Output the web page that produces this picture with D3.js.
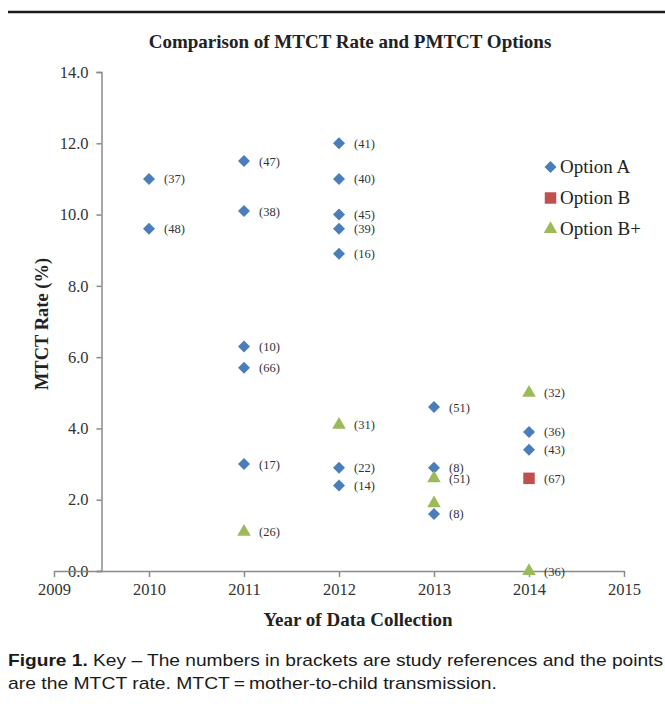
<!DOCTYPE html>
<html>
<head>
<meta charset="utf-8">
<script src="https://cdn.jsdelivr.net/npm/d3@7"></script>
<style>
  html, body { margin: 0; padding: 0; background: #fff; }
  svg { display: block; }
</style>
</head>
<body>
<svg id="chart" width="665" height="704"></svg>
<script>
// ---- Data ----
const xTicks = [2009, 2010, 2011, 2012, 2013, 2014, 2015];
const yTicks = [0, 2, 4, 6, 8, 10, 12, 14];

const optionAYear = [2010, 2010, 2011, 2011, 2011, 2011, 2011, 2012, 2012, 2012, 2012, 2012, 2012, 2012, 2013, 2013, 2013, 2014, 2014];
const optionARate = [11.0, 9.6, 11.5, 10.1, 6.3, 5.7, 3.0, 12.0, 11.0, 10.0, 9.6, 8.9, 2.9, 2.4, 4.6, 2.9, 1.6, 3.9, 3.4];
const optionARef  = ["(37)", "(48)", "(47)", "(38)", "(10)", "(66)", "(17)", "(41)", "(40)", "(45)", "(39)", "(16)", "(22)", "(14)", "(51)", "(8)", "(8)", "(36)", "(43)"];

const optionBYear = [2014];
const optionBRate = [2.6];
const optionBRef  = ["(67)"];

const optionBPlusYear = [2011, 2012, 2013, 2013, 2014, 2014];
const optionBPlusRate = [1.1, 4.1, 2.6, 1.9, 5.0, 0.0];
const optionBPlusRef  = ["(26)", "(31)", "(51)", "", "(32)", "(36)"];

const seriesNames = ["Option A", "Option B", "Option B+"];
const seriesColors = ["#4A7EBB", "#C0504D", "#9BBB59"];

// ---- Chart ----
const svg = d3.select("#chart");
const serif = "'Liberation Serif', 'Times New Roman', serif";
const sans = "'Liberation Sans', Arial, sans-serif";

const x = d3.scaleLinear().domain([2009, 2015]).range([54, 624]);
const y = d3.scaleLinear().domain([0, 14]).range([571, 72]);

// top rule
svg.append("line").attr("x1", 8).attr("x2", 665).attr("y1", 12).attr("y2", 12)
  .attr("stroke", "#1a1a1a").attr("stroke-width", 2.5);

// title
svg.append("text").attr("x", 350).attr("y", 48).attr("text-anchor", "middle")
  .attr("font-family", serif).attr("font-weight", "bold").attr("font-size", 19)
  .attr("fill", "#222").text("Comparison of MTCT Rate and PMTCT Options");

const axisColor = "#8a8a8a";

// y axis at x = 2009.5
const yAxis = d3.axisLeft(y).tickValues(yTicks).tickFormat(d3.format(".1f")).tickSize(5).tickPadding(8);
const gy = svg.append("g").attr("transform", `translate(${x(2009.5)},0)`).call(yAxis)
  .attr("font-family", serif).attr("font-size", 16.5);
gy.select(".domain").attr("stroke", axisColor).attr("stroke-width", 1.5);
gy.selectAll(".tick line").attr("stroke", axisColor).attr("stroke-width", 1.5);
gy.selectAll(".tick text").attr("fill", "#333");

// x axis at y=0
const xAxis = d3.axisBottom(x).tickValues(xTicks).tickFormat(d3.format("d")).tickSize(6).tickSizeOuter(0).tickPadding(6);
const gx = svg.append("g").attr("transform", `translate(0,${y(0)})`).call(xAxis)
  .attr("font-family", serif).attr("font-size", 16.5);
gx.select(".domain").attr("stroke", axisColor).attr("stroke-width", 1.5);
gx.selectAll(".tick line").attr("stroke", axisColor).attr("stroke-width", 1.5);
gx.selectAll(".tick text").attr("fill", "#333");

// axis titles
svg.append("text").attr("transform", `translate(48,324) rotate(-90)`).attr("text-anchor", "middle")
  .attr("font-family", serif).attr("font-weight", "bold").attr("font-size", 18.5)
  .attr("fill", "#222").text("MTCT Rate (%)");
svg.append("text").attr("x", 358).attr("y", 626).attr("text-anchor", "middle")
  .attr("font-family", serif).attr("font-weight", "bold").attr("font-size", 19)
  .attr("fill", "#222").text("Year of Data Collection");

// marker shapes
const diamond = d3.symbol().type(d3.symbolSquare).size(72)();
const square = d3.symbol().type(d3.symbolSquare).size(132)();
const triangle = d3.symbol().type(d3.symbolTriangle).size(80)();

function drawSeries(years, rates, refs, path, color, rot) {
  const data = years.map((yr, i) => ({ yr, v: rates[i], ref: refs[i] }));
  const g = svg.append("g");
  g.selectAll("path").data(data).enter().append("path")
    .attr("d", path)
    .attr("transform", d => `translate(${x(d.yr)},${y(d.v)}) rotate(${rot})`)
    .attr("fill", color);
  g.selectAll("text").data(data).enter().append("text")
    .attr("x", d => x(d.yr) + 15).attr("y", d => y(d.v) + 4.5)
    .attr("font-family", serif).attr("font-size", 12.5).attr("fill", "#333")
    .text(d => d.ref);
}
drawSeries(optionAYear, optionARate, optionARef, diamond, seriesColors[0], 45);
drawSeries(optionBYear, optionBRate, optionBRef, square, seriesColors[1], 0);
drawSeries(optionBPlusYear, optionBPlusRate, optionBPlusRef, triangle, seriesColors[2], 0);

// legend
const legendShapes = [[diamond, 45], [square, 0], [triangle, 0]];
const legendY = [167, 198, 229];
seriesNames.forEach((name, i) => {
  const [p, r] = legendShapes[i];
  svg.append("path").attr("d", p)
    .attr("transform", `translate(550.5,${legendY[i]}) rotate(${r})`)
    .attr("fill", seriesColors[i]);
  svg.append("text").attr("x", 560).attr("y", legendY[i] + 6)
    .attr("font-family", serif).attr("font-size", 19).attr("fill", "#222").text(name);
});

// caption
const cap1 = svg.append("text").attr("x", 8).attr("y", 666)
  .attr("font-family", sans).attr("font-size", 17).attr("fill", "#1a1a1a")
  .attr("textLength", 655).attr("lengthAdjust", "spacingAndGlyphs");
cap1.append("tspan").attr("font-weight", "bold").text("Figure 1.");
cap1.append("tspan").text("  Key \u2013 The numbers in brackets are study references and the points");
svg.append("text").attr("x", 8).attr("y", 689)
  .attr("font-family", sans).attr("font-size", 17).attr("fill", "#1a1a1a")
  .attr("textLength", 489).attr("lengthAdjust", "spacingAndGlyphs")
  .text("are the MTCT rate. MTCT\u2009=\u2009mother-to-child transmission.");
</script>
</body>
</html>
